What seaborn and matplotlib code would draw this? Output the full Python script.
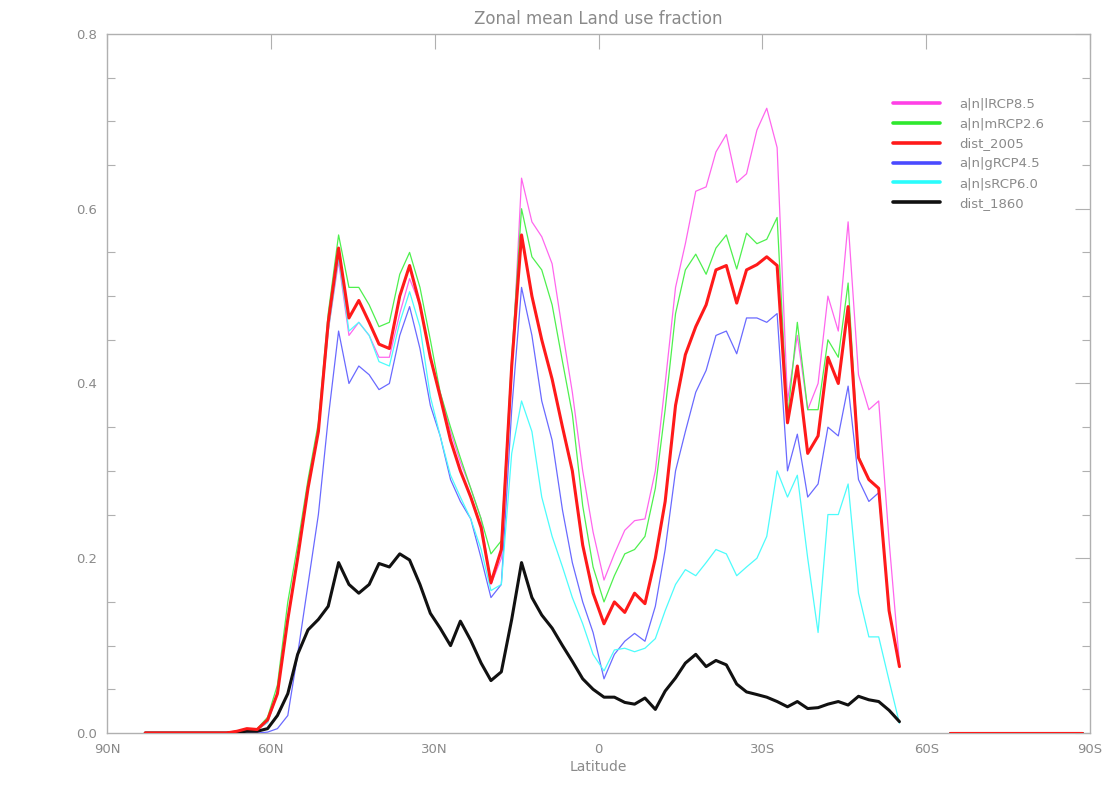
import matplotlib
matplotlib.use("Agg")
import matplotlib.pyplot as plt
import seaborn as sns
from matplotlib.lines import Line2D
from matplotlib.ticker import MultipleLocator

# ---------------- data ----------------
latitude = [83.0, 81.1, 79.3, 77.4, 75.5, 73.7, 71.8, 70.0, 68.1, 66.2,
            64.4, 62.5, 60.6, 58.8, 56.9, 55.1, 53.2, 51.3, 49.5, 47.6,
            45.7, 43.9, 42.0, 40.2, 38.3, 36.4, 34.6, 32.7, 30.8, 29.0,
            27.1, 25.3, 23.4, 21.5, 19.7, 17.8, 15.9, 14.1, 12.2, 10.4,
            8.5, 6.6, 4.8, 2.9, 1.0, -1.0, -2.9, -4.8, -6.6, -8.5,
            -10.4, -12.2, -14.1, -15.9, -17.8, -19.7, -21.5, -23.4, -25.3, -27.1,
            -29.0, -30.8, -32.7, -34.6, -36.4, -38.3, -40.2, -42.0, -43.9, -45.7,
            -47.6, -49.5, -51.3, -53.2, -55.1]

rcp85 = [0, 0, 0, 0, 0, 0, 0, 0, 0, 0.002,
         0.005, 0.004, 0.012, 0.045, 0.13, 0.20, 0.28, 0.345, 0.46, 0.54,
         0.455, 0.47, 0.455, 0.43, 0.43, 0.48, 0.52, 0.49, 0.43, 0.39,
         0.345, 0.31, 0.28, 0.245, 0.17, 0.20, 0.41, 0.635, 0.585, 0.568,
         0.537, 0.46, 0.39, 0.30, 0.23, 0.175, 0.205, 0.232, 0.243, 0.245,
         0.30, 0.40, 0.51, 0.56, 0.62, 0.625, 0.665, 0.685, 0.63, 0.64,
         0.69, 0.715, 0.67, 0.38, 0.455, 0.37, 0.40, 0.50, 0.46, 0.585,
         0.41, 0.37, 0.38, 0.22, 0.08]

rcp26 = [0, 0, 0, 0, 0, 0, 0, 0, 0, 0.002,
         0.005, 0.005, 0.018, 0.055, 0.15, 0.215, 0.29, 0.355, 0.48, 0.57,
         0.51, 0.51, 0.49, 0.465, 0.47, 0.525, 0.55, 0.51, 0.45, 0.39,
         0.35, 0.315, 0.28, 0.245, 0.205, 0.22, 0.43, 0.60, 0.545, 0.53,
         0.49, 0.425, 0.365, 0.26, 0.19, 0.15, 0.18, 0.205, 0.21, 0.225,
         0.28, 0.37, 0.48, 0.53, 0.548, 0.525, 0.555, 0.57, 0.531, 0.572,
         0.56, 0.565, 0.59, 0.36, 0.47, 0.37, 0.37, 0.45, 0.43, 0.515,
         0.317, 0.29, 0.28, 0.14, 0.076]

dist2005 = [0, 0, 0, 0, 0, 0, 0, 0, 0, 0.002,
            0.005, 0.004, 0.015, 0.045, 0.13, 0.20, 0.28, 0.345, 0.47, 0.555,
            0.475, 0.495, 0.47, 0.445, 0.44, 0.50, 0.535, 0.49, 0.43, 0.385,
            0.335, 0.30, 0.27, 0.235, 0.172, 0.21, 0.42, 0.57, 0.50, 0.45,
            0.405, 0.35, 0.30, 0.215, 0.16, 0.125, 0.15, 0.138, 0.16, 0.148,
            0.20, 0.265, 0.375, 0.433, 0.465, 0.49, 0.53, 0.535, 0.492, 0.53,
            0.536, 0.545, 0.535, 0.355, 0.42, 0.32, 0.34, 0.43, 0.40, 0.488,
            0.315, 0.29, 0.28, 0.14, 0.076]

rcp45 = [0, 0, 0, 0, 0, 0, 0, 0, 0, 0,
         0, 0, 0.001, 0.005, 0.02, 0.09, 0.17, 0.25, 0.36, 0.46,
         0.40, 0.42, 0.41, 0.393, 0.40, 0.455, 0.488, 0.44, 0.375, 0.34,
         0.29, 0.265, 0.245, 0.20, 0.155, 0.17, 0.37, 0.51, 0.455, 0.38,
         0.335, 0.255, 0.195, 0.15, 0.115, 0.062, 0.09, 0.105, 0.114, 0.105,
         0.145, 0.21, 0.30, 0.345, 0.39, 0.415, 0.455, 0.46, 0.434, 0.475,
         0.475, 0.47, 0.48, 0.30, 0.342, 0.27, 0.285, 0.35, 0.34, 0.397,
         0.29, 0.265, 0.275, 0.14, 0.076]

rcp60 = [0, 0, 0, 0, 0, 0, 0, 0, 0, 0.002,
         0.005, 0.004, 0.012, 0.045, 0.13, 0.20, 0.28, 0.345, 0.46, 0.545,
         0.46, 0.47, 0.455, 0.425, 0.42, 0.47, 0.505, 0.465, 0.385, 0.34,
         0.295, 0.27, 0.245, 0.21, 0.163, 0.17, 0.32, 0.38, 0.345, 0.27,
         0.225, 0.19, 0.155, 0.125, 0.09, 0.071, 0.095, 0.097, 0.093, 0.097,
         0.108, 0.14, 0.17, 0.187, 0.18, 0.195, 0.21, 0.205, 0.18, 0.19,
         0.20, 0.225, 0.30, 0.27, 0.295, 0.20, 0.115, 0.25, 0.25, 0.285,
         0.16, 0.11, 0.11, 0.06, 0.011]

dist1860 = [0, 0, 0, 0, 0, 0, 0, 0, 0, 0.001,
            0.002, 0.002, 0.005, 0.02, 0.045, 0.09, 0.118, 0.13, 0.145, 0.195,
            0.17, 0.16, 0.17, 0.194, 0.19, 0.205, 0.198, 0.17, 0.137, 0.12,
            0.10, 0.128, 0.106, 0.08, 0.06, 0.07, 0.13, 0.195, 0.155, 0.135,
            0.12, 0.10, 0.082, 0.062, 0.05, 0.041, 0.041, 0.035, 0.033, 0.04,
            0.027, 0.048, 0.063, 0.08, 0.09, 0.076, 0.083, 0.078, 0.056, 0.047,
            0.044, 0.041, 0.036, 0.03, 0.036, 0.028, 0.029, 0.033, 0.036, 0.032,
            0.042, 0.038, 0.036, 0.026, 0.013]

south_latitude = [-64.4, -88.6]
south_value = [0.0, 0.0]

series_labels = ["a|n|lRCP8.5", "a|n|mRCP2.6", "dist_2005",
                 "a|n|gRCP4.5", "a|n|sRCP6.0", "dist_1860"]
series_values = [rcp85, rcp26, dist2005, rcp45, rcp60, dist1860]
series_colors = ["#ff40e6", "#2ee82e", "#ff1a1a", "#4a4aff", "#2afcfc", "#111111"]
line_colors = ["#ff66ee", "#4ef04e", "#ff1a1a", "#6a6aff", "#4cfcfc", "#111111"]
series_widths = [0.9, 0.9, 2.2, 0.9, 0.9, 2.2]
series_zorder = [3, 3, 6, 3, 3, 5]

x_ticks = [90, 60, 30, 0, -30, -60, -90]
x_ticklabels = ["90N", "60N", "30N", "0", "30S", "60S", "90S"]
y_ticks = [0.0, 0.2, 0.4, 0.6, 0.8]
y_ticklabels = ["0.0", "0.2", "0.4", "0.6", "0.8"]

# ---------------- drawing ----------------
sns.set_style("white")
plt.rcParams['font.family'] = ['DejaVu Sans']

fig = plt.figure(figsize=(11.08, 7.92), dpi=100)
ax = fig.add_axes([0.0966, 0.0745, 0.8872, 0.8826])

for vals, col, lw, zo in zip(series_values, line_colors, series_widths, series_zorder):
    sns.lineplot(x=latitude, y=vals, ax=ax, color=col, linewidth=lw,
                 estimator=None, sort=False, legend=False, zorder=zo)
    sns.lineplot(x=south_latitude, y=south_value, ax=ax, color=col,
                 linewidth=lw, estimator=None, sort=False, legend=False, zorder=zo)

ax.set_xlim(90, -90)
ax.set_ylim(0, 0.8)
ax.set_xticks(x_ticks)
ax.set_xticklabels(x_ticklabels)
ax.set_yticks(y_ticks)
ax.set_yticklabels(y_ticklabels)
ax.yaxis.set_minor_locator(MultipleLocator(0.05))

frame_col = "#b0b0b0"
text_col = "#8a8a8a"
for sp in ax.spines.values():
    sp.set_color(frame_col)
    sp.set_linewidth(1.0)
ax.tick_params(which="major", direction="in", top=True, right=True,
               length=11, width=0.8, color=frame_col, labelcolor=text_col,
               labelsize=9.5, pad=7)
ax.tick_params(which="minor", direction="in", left=True, right=True,
               length=6, width=0.8, color=frame_col)

ax.set_title("Zonal mean Land use fraction", color=text_col, fontsize=12, pad=7)
ax.set_xlabel("Latitude", color=text_col, fontsize=10, labelpad=3)
ax.set_ylabel("")

handles = [Line2D([0], [0], color=c, lw=2.6) for c in series_colors]
ax.legend(handles, series_labels, loc="upper left", bbox_to_anchor=(0.8, 0.909),
          frameon=False, fontsize=9.5, handlelength=3.5, handletextpad=1.5,
          labelspacing=0.52, borderpad=0, borderaxespad=0, labelcolor=text_col)

fig.savefig("out.png", dpi=100, facecolor="white")
